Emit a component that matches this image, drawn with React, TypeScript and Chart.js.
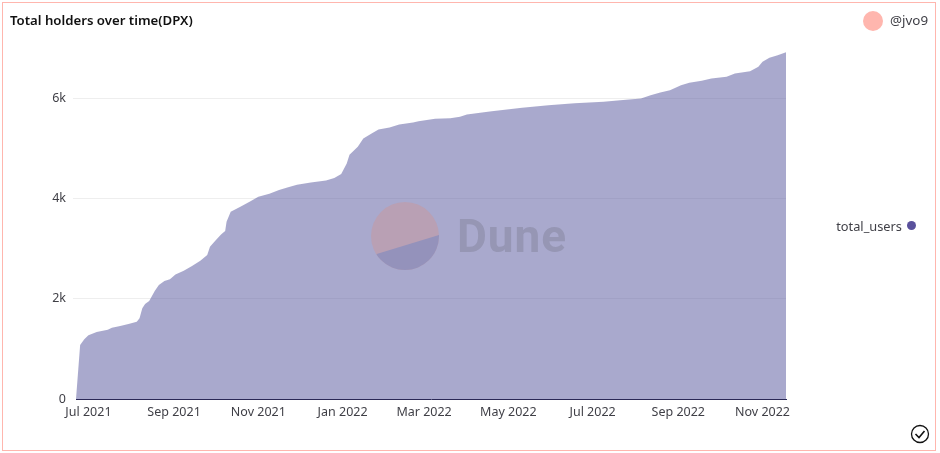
import React, { useEffect, useRef } from "react";
import { Chart, registerables } from "chart.js";

Chart.register(...registerables);

const dates = [
  "2021-06-22","2021-06-25","2021-06-28","2021-07-01","2021-07-07","2021-07-15","2021-07-18","2021-07-24","2021-07-30",
  "2021-08-05","2021-08-07","2021-08-09","2021-08-11","2021-08-14","2021-08-18","2021-08-21","2021-08-25","2021-08-29",
  "2021-09-02","2021-09-08","2021-09-14","2021-09-20","2021-09-25","2021-09-27","2021-09-30",
  "2021-10-05","2021-10-08","2021-10-09","2021-10-12","2021-10-19","2021-10-26",
  "2021-11-01","2021-11-09","2021-11-16","2021-11-22","2021-11-29","2021-12-09","2021-12-20","2021-12-26","2021-12-31",
  "2022-01-04","2022-01-06","2022-01-12","2022-01-16","2022-01-22","2022-01-27",
  "2022-02-04","2022-02-11","2022-02-21","2022-02-25","2022-03-09","2022-03-20","2022-03-27",
  "2022-04-01","2022-04-12","2022-04-19","2022-05-11","2022-05-30","2022-06-18","2022-07-09","2022-07-21",
  "2022-08-05","2022-08-12","2022-08-19","2022-08-26","2022-09-03","2022-09-09","2022-09-18","2022-09-25",
  "2022-10-06","2022-10-12","2022-10-23","2022-10-29","2022-11-01","2022-11-06","2022-11-12","2022-11-18",
];

const totalUsers = [
  0,1076,1190,1270,1335,1381,1421,1455,1495,
  1541,1608,1808,1894,1953,2153,2272,2352,2386,
  2485,2557,2651,2757,2870,3036,3129,
  3280,3349,3534,3733,3833,3939,
  4032,4092,4166,4219,4271,4319,4358,4405,4485,
  4697,4873,5029,5195,5295,5375,
  5415,5475,5514,5541,5587,5601,5627,
  5675,5714,5741,5806,5860,5900,5926,5960,
  5994,6060,6113,6159,6259,6305,6345,6392,
  6425,6492,6538,6624,6724,6804,6857,6917,
];

const tickDates = [
  "2021-07-01","2021-09-01","2021-11-01","2022-01-01","2022-03-01","2022-05-01","2022-07-01","2022-09-01","2022-11-01",
];
const tickLabels = [
  "Jul 2021","Sep 2021","Nov 2021","Jan 2022","Mar 2022","May 2022","Jul 2022","Sep 2022","Nov 2022",
];
const yTicks = [0, 2000, 4000, 6000];

const seriesName = "total_users";
const titleText = "Total holders over time(DPX)";
const author = "@jvo9";

const FONT = '"Noto Sans", sans-serif';
const SERIES = "#5a519c";
const PINK = "#ffb6ae";
const TEXT = "#3f3f46";

const toMs = (d: string) => Date.parse(d + "T00:00:00Z");

const abs = (s: React.CSSProperties): React.CSSProperties => ({ position: "absolute", ...s });

export default function App() {
  const ref = useRef<HTMLCanvasElement>(null);

  useEffect(() => {
    if (!ref.current) return;
    const chart = new Chart(ref.current, {
      type: "line",
      data: {
        datasets: [
          {
            label: seriesName,
            data: dates.map((d, i) => ({ x: toMs(d), y: totalUsers[i] })),
            borderWidth: 0,
            pointRadius: 0,
            fill: "origin",
            backgroundColor: "rgba(84,84,155,0.5)",
            tension: 0,
          },
        ],
      },
      options: {
        responsive: false,
        animation: false,
        layout: { padding: { left: 10, right: 154, top: 0, bottom: 0 } },
        plugins: {
          legend: { display: false },
          tooltip: { enabled: false },
          title: {
            display: true,
            text: titleText,
            align: "start",
            color: "#111111",
            font: { family: FONT, size: 13.2, weight: "600", lineHeight: 1.25 },
            padding: { top: 13, bottom: 18.5 },
          },
        },
        scales: {
          x: {
            type: "linear",
            min: toMs(dates[0]),
            max: toMs(dates[dates.length - 1]),
            afterBuildTicks: (s: any) => {
              s.ticks = tickDates.map((d) => ({ value: toMs(d) }));
            },
            afterFit: (s: any) => {
              s.height = 54;
            },
            grid: { display: false, drawTicks: false, tickLength: 0 },
            border: { display: true, color: "#2a2856", width: 1 },
            ticks: {
              autoSkip: false,
              maxRotation: 0,
              minRotation: 0,
              padding: 6,
              color: TEXT,
              font: { family: FONT, size: 12.5 },
              callback: (v: any) => tickLabels[tickDates.findIndex((d) => toMs(d) === v)],
            },
          },
          y: {
            min: 0,
            max: 7000,
            afterBuildTicks: (s: any) => {
              s.ticks = yTicks.map((value) => ({ value }));
            },
            afterFit: (s: any) => {
              s.width = 66;
            },
            border: { display: false },
            grid: {
              color: (c: any) => (c.tick && c.tick.value === 0 ? "rgba(0,0,0,0)" : "#eeeeee"),
              tickLength: 3,
            },
            ticks: {
              padding: 7,
              color: TEXT,
              font: { family: FONT, size: 12.5 },
              callback: (v: any) => (v === 0 ? "0" : v / 1000 + "k"),
            },
          },
        },
      },
    } as any);
    return () => chart.destroy();
  }, []);

  const text: React.CSSProperties = { fontFamily: FONT, fontSize: 12.8, color: TEXT, lineHeight: "16px", whiteSpace: "nowrap" };

  return (
    <div style={{ position: "fixed", left: 0, top: 0, width: 940, height: 453, background: "#fff", overflow: "hidden" }}>
      <canvas ref={ref} width={940} height={453} style={{ display: "block", width: 940, height: 453 }} />
      <div style={abs({ left: 2, top: 2, width: 932, height: 447, border: `1.5px solid ${PINK}`, pointerEvents: "none" })} />
      <svg width={940} height={453} style={abs({ left: 0, top: 0, pointerEvents: "none" })}>
        <defs>
          <clipPath id="lower">
            <polygon points="376.7,254 439,235 445,280 365,280" />
          </clipPath>
        </defs>
        <circle cx={405} cy={236} r={34} fill="#b9a0b4" />
        <circle cx={405} cy={236} r={34} fill="#9492bb" clipPath="url(#lower)" />
        <text x={457} y={252} textLength={109} fontFamily="Roboto, sans-serif" fontSize={46} fontWeight={700} fill="#9696b4">Dune</text>
        <circle cx={873} cy={21} r={10} fill={PINK} />
        <circle cx={911.5} cy={225.5} r={4.5} fill={SERIES} />
        <circle cx={920} cy={434} r={8.5} fill="none" stroke="#111" strokeWidth={1.3} />
        <polyline points="915.5,434 919,437.5 924.5,431" fill="none" stroke="#111" strokeWidth={1.6} />
      </svg>
      <div style={abs({ ...text, left: 890, top: 12, fontSize: 13.4 })}>{author}</div>
      <div style={abs({ ...text, right: 38, top: 218 })}>{seriesName}</div>
    </div>
  );
}
